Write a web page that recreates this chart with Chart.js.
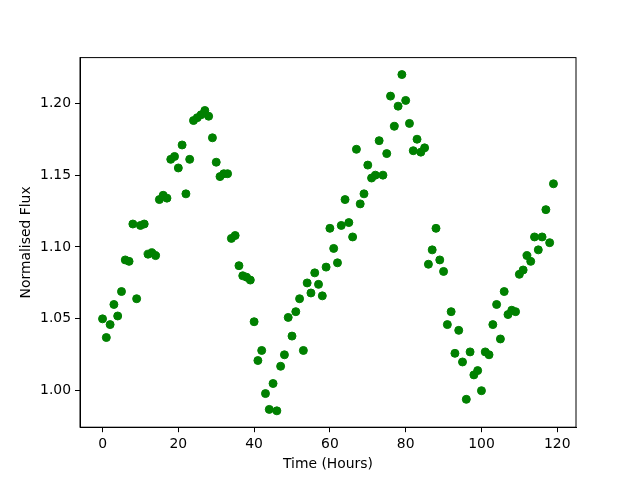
<!DOCTYPE html>
<html>
<head>
<meta charset="utf-8">
<script src="https://cdn.jsdelivr.net/npm/chart.js@4.4.1/dist/chart.umd.min.js"></script>
<style>
  html, body { margin: 0; padding: 0; background: #fff; }
  #wrap { width: 640px; height: 480px; }
</style>
</head>
<body>
<div id="wrap"><canvas id="grafik" width="640" height="480"></canvas></div>
<script>
// Veriler
const saatler = [];
for (let i = 0; i < 120; i++) saatler.push(i);

const aki = [
    1.050, 1.037, 1.046, 1.060, 1.052, 1.069, 1.091, 1.090, 1.116, 1.064,
    1.115, 1.116, 1.095, 1.096, 1.094, 1.133, 1.136, 1.134, 1.161, 1.163,
    1.155, 1.171, 1.137, 1.161, 1.188, 1.190, 1.192, 1.195, 1.191, 1.176,
    1.159, 1.149, 1.151, 1.151, 1.106, 1.108, 1.087, 1.080, 1.079, 1.077,
    1.048, 1.021, 1.028, 0.998, 0.987, 1.005, 0.986, 1.017, 1.025, 1.051,
    1.038, 1.055, 1.064, 1.028, 1.075, 1.068, 1.082, 1.074, 1.066, 1.086,
    1.113, 1.099, 1.089, 1.115, 1.133, 1.117, 1.107, 1.168, 1.130, 1.137,
    1.157, 1.148, 1.150, 1.174, 1.150, 1.165, 1.205, 1.184, 1.198, 1.220,
    1.202, 1.186, 1.167, 1.175, 1.166, 1.169, 1.088, 1.098, 1.113, 1.091,
    1.083, 1.046, 1.055, 1.026, 1.042, 1.020, 0.994, 1.027, 1.011, 1.014,
    1.000, 1.027, 1.025, 1.046, 1.060, 1.036, 1.069, 1.053, 1.056, 1.055,
    1.081, 1.084, 1.094, 1.090, 1.107, 1.098, 1.107, 1.126, 1.103, 1.144
];

const xTikler = [0, 20, 40, 60, 80, 100, 120];
const yTikler = [1.00, 1.05, 1.10, 1.15, 1.20];

const yazi = { family: 'DejaVu Sans', size: 13.9 };

// Cerceve (ust ve sag kenar dahil)
const cerceve = {
    id: 'cerceve',
    afterDraw(chart) {
        const a = chart.chartArea;
        const ctx = chart.ctx;
        ctx.save();
        ctx.strokeStyle = '#000';
        ctx.lineWidth = 1;
        ctx.strokeRect(a.left, a.top, a.right - a.left, a.bottom - a.top);
        ctx.restore();
    }
};

const noktalar = saatler.map((s, i) => ({ x: s, y: aki[i] }));

new Chart(document.getElementById('grafik').getContext('2d'), {
    type: 'scatter',
    data: {
        datasets: [{
            data: noktalar,
            backgroundColor: '#008000',
            borderColor: '#008000',
            borderWidth: 1,
            pointRadius: 4,
            pointHoverRadius: 4
        }]
    },
    options: {
        responsive: false,
        animation: false,
        events: [],
        layout: { padding: { left: 0, right: 64, top: 57.6, bottom: 0 } },
        plugins: { legend: { display: false }, tooltip: { enabled: false } },
        scales: {
            x: {
                type: 'linear',
                min: -5.95,
                max: 124.95,
                afterBuildTicks: (s) => { s.ticks = xTikler.map(v => ({ value: v })); },
                afterFit: (s) => { s.height = 52.8; },
                grid: { drawOnChartArea: false, tickLength: 5, tickColor: '#000', color: '#000' },
                border: { color: '#000', width: 1 },
                ticks: { color: '#000', font: yazi, padding: 4, maxRotation: 0, callback: v => String(v) },
                title: { display: true, text: 'Time (Hours)', color: '#000', font: yazi, padding: { top: 0, bottom: 7 } }
            },
            y: {
                type: 'linear',
                min: 0.9746,
                max: 1.2318,
                afterBuildTicks: (s) => { s.ticks = yTikler.map(v => ({ value: v })); },
                afterFit: (s) => { s.width = 80; },
                grid: { drawOnChartArea: false, tickLength: 5, tickColor: '#000', color: '#000' },
                border: { color: '#000', width: 1 },
                ticks: { color: '#000', font: yazi, padding: 4, callback: v => v.toFixed(2) },
                title: { display: true, text: 'Normalised Flux', color: '#000', font: yazi, padding: { top: 17.6, bottom: 0 } }
            }
        }
    },
    plugins: [cerceve]
});
</script>
</body>
</html>
